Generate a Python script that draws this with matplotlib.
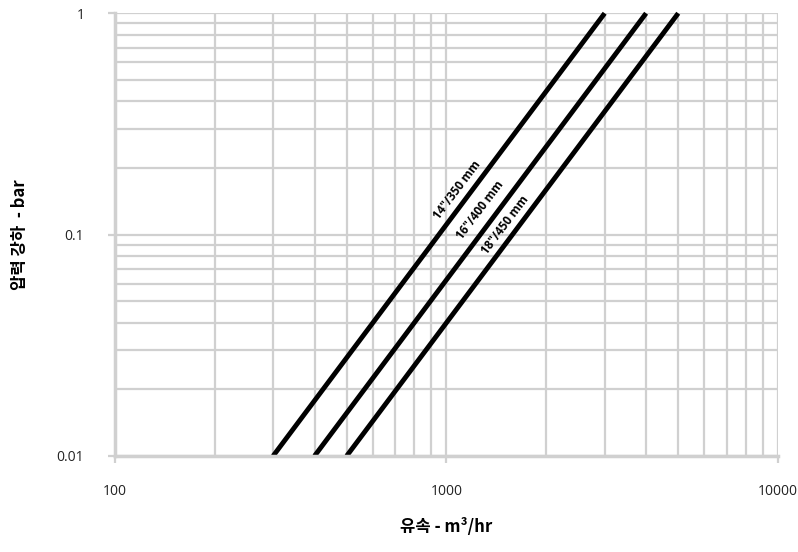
import matplotlib
matplotlib.use('Agg')
import matplotlib.pyplot as plt
from matplotlib.ticker import FixedLocator, FixedFormatter, LogLocator, NullFormatter

plt.rcParams['font.family'] = ['Open Sans', 'Noto Sans CJK KR', 'DejaVu Sans']

# ── data: each pipe size is a straight line on log-log axes ──────────────────
sizes = ['14"/350 mm', '16"/400 mm', '18"/450 mm']
flow_start = [300, 400, 500]        # m3/hr at 0.01 bar
flow_end = [3000, 4000, 5000]       # m3/hr at 1 bar
dp_range = [0.01, 1]
label_pos = [(1076, 0.159), (1262, 0.129), (1500, 0.110)]

x_ticks = [100, 1000, 10000]
x_ticklabels = ['100', '1000', '10000']
y_ticks = [0.01, 0.1, 1]
y_ticklabels = ['0.01', '0.1', '1']

grid_col = '#d0d0d0'

fig = plt.figure(figsize=(7.98, 5.52), dpi=100)
ax = fig.add_axes([0.144, 0.174, 0.831, 0.802])
ax.set_xscale('log')
ax.set_yscale('log')
ax.set_xlim(100, 10000)
ax.set_ylim(0.01, 1)

ax.xaxis.set_major_locator(FixedLocator(x_ticks))
ax.xaxis.set_major_formatter(FixedFormatter(x_ticklabels))
ax.yaxis.set_major_locator(FixedLocator(y_ticks))
ax.yaxis.set_major_formatter(FixedFormatter(y_ticklabels))
ax.xaxis.set_minor_locator(LogLocator(base=10, subs=range(2, 10)))
ax.yaxis.set_minor_locator(LogLocator(base=10, subs=range(2, 10)))
ax.xaxis.set_minor_formatter(NullFormatter())
ax.yaxis.set_minor_formatter(NullFormatter())

ax.grid(True, which='both', color=grid_col, linewidth=1.6)
ax.set_axisbelow(True)
for s in ['top', 'right']:
    ax.spines[s].set_visible(False)
for s in ['left', 'bottom']:
    ax.spines[s].set_color(grid_col)
    ax.spines[s].set_linewidth(2.5)
ax.tick_params(which='major', length=5, width=1.6, color=grid_col,
               labelsize=10, labelcolor='#222222')
ax.tick_params(axis='x', which='major', pad=15)
ax.tick_params(axis='y', which='major', pad=17)
ax.tick_params(which='minor', length=0)

for name, x0, x1, (lx, ly) in zip(sizes, flow_start, flow_end, label_pos):
    ax.plot([x0, x1], dp_range, color='black', linewidth=3.5,
            solid_capstyle='butt', clip_on=False)
    ax.text(lx, ly, name, rotation=53, ha='center', va='center',
            fontsize=8.5, fontweight='bold',
            family=['Liberation Sans Narrow', 'Open Sans', 'DejaVu Sans'])

ax.set_xlabel('유속 - m³/hr', fontsize=12, fontweight='bold',
              family=['Noto Sans CJK KR', 'DejaVu Sans'], labelpad=14)
ax.set_ylabel('압력 강하  - bar', fontsize=12, fontweight='bold',
              family=['Noto Sans CJK KR', 'DejaVu Sans'], labelpad=20)

fig.savefig('out.png', dpi=100)
